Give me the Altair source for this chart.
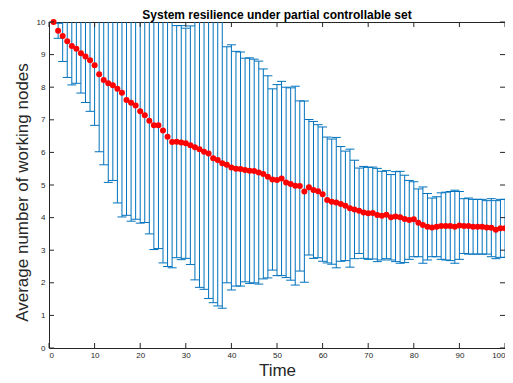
import altair as alt
import pandas as pd

# ---- data ----
time = list(range(1, 101))
mean_nodes = [
    10.00, 9.73, 9.57, 9.41, 9.26, 9.18, 9.04, 8.94, 8.83, 8.67,
    8.40, 8.22, 8.12, 8.06, 7.95, 7.83, 7.61, 7.52, 7.44, 7.26,
    7.14, 6.97, 6.83, 6.83, 6.67, 6.48, 6.32, 6.33, 6.30, 6.28,
    6.22, 6.16, 6.10, 6.02, 5.97, 5.82, 5.77, 5.67, 5.62, 5.54,
    5.50, 5.49, 5.46, 5.44, 5.43, 5.38, 5.34, 5.25, 5.17, 5.15,
    5.20, 5.08, 5.03, 4.98, 4.97, 4.80, 4.93, 4.85, 4.81, 4.72,
    4.54, 4.49, 4.46, 4.42, 4.36, 4.29, 4.25, 4.21, 4.16, 4.13,
    4.14, 4.08, 4.06, 4.09, 4.01, 4.03, 4.01, 3.96, 3.93, 3.95,
    3.84, 3.77, 3.72, 3.70, 3.72, 3.74, 3.74, 3.74, 3.72, 3.76,
    3.74, 3.74, 3.72, 3.72, 3.72, 3.70, 3.69, 3.63, 3.67, 3.67,
]
lower_nodes = [
    10.00, 9.50, 8.79, 8.30, 8.07, 8.12, 7.82, 7.53, 7.26, 6.83,
    6.02, 5.62, 5.08, 5.14, 4.45, 4.02, 4.07, 3.89, 3.95, 3.83,
    3.85, 3.50, 3.02, 3.05, 2.61, 2.50, 2.46, 2.77, 2.71, 2.75,
    2.56, 2.09, 1.86, 1.80, 1.52, 1.39, 1.29, 1.22, 2.00, 1.78,
    1.90, 1.90, 2.03, 1.98, 2.00, 1.96, 2.12, 2.15, 2.39, 2.22,
    2.22, 2.16, 2.08, 1.93, 2.36, 2.02, 2.85, 2.75, 2.77, 2.66,
    2.61, 2.57, 2.46, 2.66, 2.68, 2.48, 2.74, 2.90, 2.75, 2.72,
    2.73, 2.65, 2.70, 2.74, 2.70, 2.65, 2.60, 2.62, 2.72, 2.80,
    2.80, 2.60, 2.70, 2.80, 2.80, 2.72, 2.70, 2.68, 2.60, 2.72,
    2.90, 2.88, 2.88, 2.88, 2.88, 2.88, 2.80, 2.74, 2.78, 2.78,
]
x_ticks = [0, 10, 20, 30, 40, 50, 60, 70, 80, 90, 100]
y_ticks = [0, 1, 2, 3, 4, 5, 6, 7, 8, 9, 10]
title_text = ["System resilience under partial controllable set"]

df = pd.DataFrame({"t": time, "mean": mean_nodes, "lo": lower_nodes})
df["hi"] = 2 * df["mean"] - df["lo"]   # symmetric error bars (mean +/- sd)
xt_df = pd.DataFrame({"v": x_ticks})
yt_df = pd.DataFrame({"v": y_ticks})
title_df = pd.DataFrame({"label": title_text})

# ---- styling ----
W, H = 456, 326
FONT = "Liberation Sans"
AX = "#262626"
BLUE = "#0072BD"
TICK = 5

xs = alt.Scale(domain=[0, 100], nice=False, zero=False)
ys = alt.Scale(domain=[0, 10], nice=False, zero=False)

x_axis = alt.Axis(values=x_ticks, ticks=False, domain=False, grid=False,
                  labelFont=FONT, labelFontSize=8, labelColor=AX, labelPadding=3,
                  labelFlush=True, format="d",
                  title="Time", titleFont=FONT, titleFontSize=17,
                  titleFontWeight="normal", titleColor=AX,
                  titleBaseline="alphabetic", titleX=W / 2, titleY=27,
                  titleAnchor="middle")
y_axis = alt.Axis(values=y_ticks, ticks=False, domain=False, grid=False,
                  labelFont=FONT, labelFontSize=8, labelColor=AX, labelPadding=4,
                  labelFlush=False, format="d",
                  title="Average number of working nodes", titleFont=FONT,
                  titleFontSize=17, titleFontWeight="normal", titleColor=AX,
                  titleAngle=270, titleBaseline="alphabetic", titleAlign="center",
                  titleX=-22, titleY=H / 2 + 7)


def X(field):
    return alt.X(field, type="quantitative", scale=xs, axis=x_axis, title="Time")


def Y(field):
    return alt.Y(field, type="quantitative", scale=ys, axis=y_axis,
                 title="Average number of working nodes")


base = alt.Chart(df)

bars = base.mark_rule(color=BLUE, strokeWidth=1, clip=True).encode(
    x=X("t"), y=Y("lo"), y2="hi:Q")
caps_lo = base.mark_tick(orient="horizontal", size=9, thickness=1,
                         color=BLUE, opacity=1, clip=True).encode(x=X("t"), y=Y("lo"))
caps_hi = base.mark_tick(orient="horizontal", size=9, thickness=1,
                         color=BLUE, opacity=1, clip=True).encode(x=X("t"), y=Y("hi"))
dots = base.mark_circle(size=36, color="#FF0000", opacity=1).encode(
    x=X("t"), y=Y("mean"))

# inward ticks on all four sides
xt = alt.Chart(xt_df)
yt = alt.Chart(yt_df)
tick_b = xt.mark_rule(color=AX, strokeWidth=1).encode(
    x=X("v"), y=alt.value(H), y2=alt.value(H - TICK))
tick_t = xt.mark_rule(color=AX, strokeWidth=1).encode(
    x=X("v"), y=alt.value(0), y2=alt.value(TICK))
tick_l = yt.mark_rule(color=AX, strokeWidth=1).encode(
    y=Y("v"), x=alt.value(0), x2=alt.value(TICK))
tick_r = yt.mark_rule(color=AX, strokeWidth=1).encode(
    y=Y("v"), x=alt.value(W), x2=alt.value(W - TICK))

# chart title drawn as a text mark just above the plot frame
title = alt.Chart(title_df).mark_text(
    font=FONT, fontSize=12, fontWeight="bold", color="black",
    align="center", baseline="alphabetic").encode(
    text="label:N", x=alt.value(W / 2), y=alt.value(-3))

chart = alt.layer(bars, caps_lo, caps_hi, dots, tick_b, tick_t, tick_l, tick_r,
                  title).properties(
    width=W, height=H,
    autosize=alt.AutoSizeParams(type="none"),
    padding={"left": 41, "top": 14, "right": 0, "bottom": 34},
    background="white",
).configure_view(stroke=AX, strokeWidth=1)

chart.save("out.html", embed_options={"renderer": "svg", "actions": False})
